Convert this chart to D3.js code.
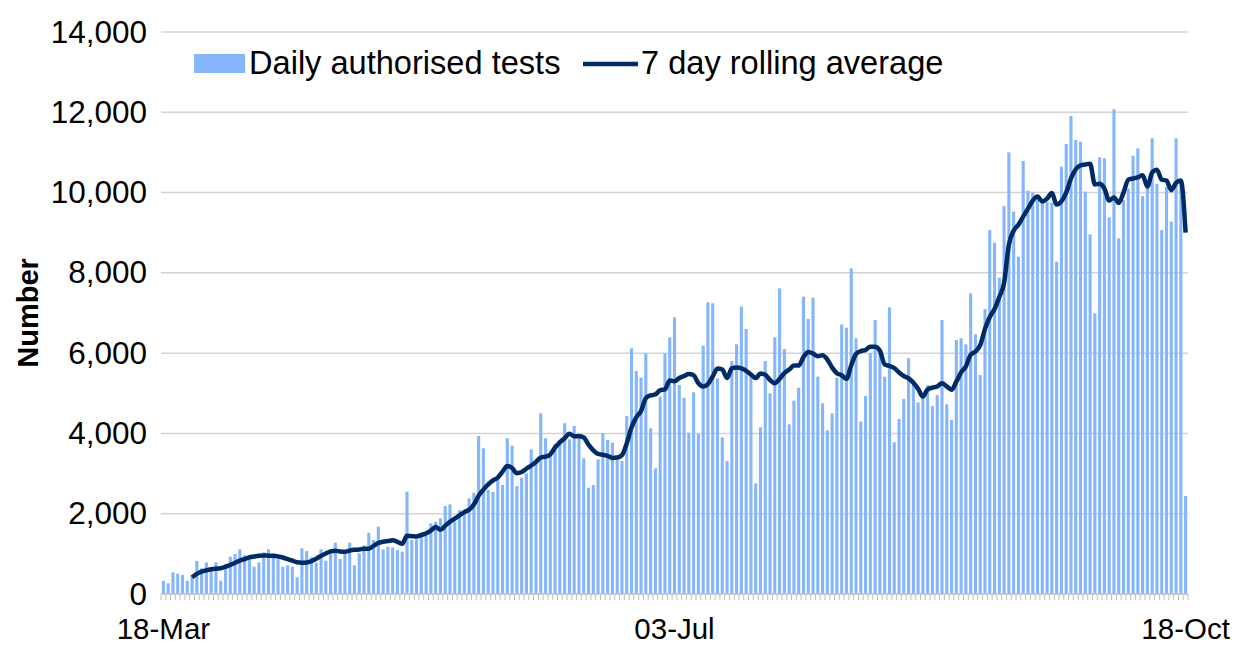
<!DOCTYPE html>
<html>
<head>
<meta charset="utf-8">
<script src="https://cdn.jsdelivr.net/npm/d3@7"></script>
<style>
  body { margin: 0; background: #fff; }
  text { font-family: "Liberation Sans", Arial, sans-serif; fill: #000; }
</style>
</head>
<body>
<div id="dataviz"></div>
<script>
// categories: one per day, 18-Mar to 18-Oct
const days = d3.timeDay.range(new Date(2020, 2, 18), new Date(2020, 9, 19));
const tickLabels = ["18-Mar", "03-Jul", "18-Oct"];
const tickDays = [0, 107, 214];
const yTicks = [0, 2000, 4000, 6000, 8000, 10000, 12000, 14000];

// daily authorised tests
const dailyTests = [
  331, 266, 540, 507, 473, 331, 450, 822, 640, 789, 640, 789, 331, 722, 930, 996, 1113, 963, 946, 680, 789,
  1038, 1113, 1000, 864, 681, 714, 681, 415, 1138, 1071, 914, 781, 1113, 830, 1013, 1279, 872, 1013, 1279, 714, 1013, 1212,
  1528, 1345, 1677, 1113, 1179, 1162, 1096, 1055, 2549, 1345, 1362, 1428, 1445, 1760, 1802, 1885, 2192, 2234, 1802, 2092, 2092, 2383,
  2524, 3936, 3629, 2591, 2541, 2840, 2715, 3878, 3695, 2690, 2898, 3006, 3604, 3296, 4501, 3878, 3462, 3737, 3836, 4252, 3853,
  4185, 4000, 3380, 2648, 2715, 3355, 4003, 3836, 3770, 3380, 3313, 4434, 6120, 5555, 5389, 5995, 4127, 3130, 4915, 5995, 6393, 6892,
  5206, 4890, 4018, 5024, 3986, 6185, 7266, 7241, 5372, 3903, 3313, 5804, 6220, 7157, 6601, 5430, 2757, 4152, 5804, 4999, 6394, 7615,
  6103, 4227, 4816, 5140, 7406, 6850, 7382, 5414, 4749, 4077, 4500, 5389, 6717, 6634, 8113, 6369, 4293, 4932, 5995, 6825, 5995, 5414,
  7141, 3779, 4359, 4857, 5871, 5331, 4774, 4915, 5206, 4683, 4957, 6825, 4724, 4334, 6327, 6369, 6220, 7490, 6468, 5455, 7099, 9067,
  8751, 7879, 9665, 11002, 9524, 8403, 10786, 10047, 10000, 9939, 9748, 9773, 9748, 8278, 10645, 11210, 11907, 11309, 11268, 10022, 8959,
  6992, 10878, 10853, 9383, 12074, 8860, 9815, 10100, 10919, 11102, 9914, 10230, 11351, 10213, 9067, 10146, 9275, 11351, 10313, 2441
];

// 7 day rolling average, starts on the 7th day
const avgStart = 6;
const rollingAvg = [
  415, 500, 556, 590, 615, 630, 640, 680, 722, 780, 830, 870, 913, 935, 955,
  960, 955, 950, 935, 910, 870, 830, 790, 780, 785, 820, 880, 950, 1010, 1060, 1080, 1060, 1050, 1080, 1100, 1110, 1130,
  1130, 1200, 1270, 1300, 1320, 1340, 1300, 1250, 1450, 1440, 1430, 1470, 1510, 1580, 1670, 1600, 1700, 1800, 1880, 1960, 2040, 2100,
  2230, 2450, 2600, 2730, 2830, 2900, 3050, 3190, 3140, 3010, 3040, 3120, 3200, 3290, 3400, 3420, 3480, 3650, 3780, 3880, 3990,
  3930, 3930, 3900, 3720, 3580, 3490, 3470, 3440, 3390, 3400, 3460, 3750, 4150, 4400, 4560, 4880, 4950, 4970, 5080, 5100, 5320, 5300,
  5380, 5430, 5480, 5450, 5250, 5170, 5230, 5420, 5620, 5590, 5380, 5620, 5640, 5620, 5560, 5470, 5380, 5490, 5460, 5330, 5250, 5360,
  5500, 5590, 5690, 5690, 5900, 6030, 5990, 5920, 5950, 5840, 5640, 5500, 5450, 5360, 5700, 5980, 6050, 6080, 6160, 6160, 6060, 5720,
  5680, 5630, 5520, 5430, 5370, 5260, 5110, 4920, 5100, 5140, 5170, 5250, 5170, 5090, 5290, 5520, 5670, 5960, 6040, 6200, 6600, 6900,
  7100, 7400, 7750, 8700, 9050, 9200, 9400, 9600, 9800, 9900, 9780, 9850, 9990, 9700, 9780, 10000, 10350, 10580, 10680, 10700, 10720,
  10200, 10220, 10100, 9800, 9880, 9740, 10000, 10320, 10350, 10380, 10430, 10150, 10500, 10570, 10320, 10300, 10060, 10240, 10300, 9000
];

const W = 1237, H = 645;
const margin = { top: 32, right: 49, bottom: 51, left: 161 };
const width = W - margin.left - margin.right;
const height = H - margin.top - margin.bottom;

const svg = d3.select("#dataviz").append("svg")
  .attr("width", W).attr("height", H);
const g = svg.append("g")
  .attr("transform", "translate(" + margin.left + "," + margin.top + ")");

const x = d3.scaleBand().domain(d3.range(days.length)).range([0, width]).paddingInner(0.35).paddingOuter(0.175);
const y = d3.scaleLinear().domain([0, 14000]).range([height, 0]);

// grid
g.append("g")
  .selectAll("line")
  .data(yTicks.slice(1))
  .join("line")
  .attr("x1", 0).attr("x2", width)
  .attr("y1", d => y(d)).attr("y2", d => y(d))
  .attr("stroke", "#d4d4d4").attr("stroke-width", 1.5);

// y axis labels
const yAxis = g.append("g")
  .call(d3.axisLeft(y).tickValues(yTicks).tickSize(0).tickPadding(14).tickFormat(d3.format(",")));
yAxis.select(".domain").remove();
yAxis.selectAll("text").style("font-size", "31.5px").attr("fill", "#000");

// bars
g.selectAll(".bar")
  .data(dailyTests)
  .join("rect")
  .attr("class", "bar")
  .attr("x", (d, i) => x(i))
  .attr("width", x.bandwidth())
  .attr("y", d => y(d))
  .attr("height", d => height - y(d))
  .attr("fill", "#85b6fb");

// x axis: baseline with small category ticks
const step = x.step();
g.append("line")
  .attr("x1", 0).attr("x2", width)
  .attr("y1", height).attr("y2", height)
  .attr("stroke", "#bfbfbf").attr("stroke-width", 1.5);
g.append("g")
  .selectAll("line")
  .data(d3.range(days.length + 1))
  .join("line")
  .attr("x1", d => d * step).attr("x2", d => d * step)
  .attr("y1", height).attr("y2", height + 6)
  .attr("stroke", "#bfbfbf").attr("stroke-width", 1);

g.append("g")
  .selectAll("text")
  .data(tickDays)
  .join("text")
  .attr("x", d => x(d) + x.bandwidth() / 2)
  .attr("y", height + 44.5)
  .attr("text-anchor", "middle")
  .style("font-size", "29.5px")
  .text((d, i) => tickLabels[i]);

// rolling average line
const line = d3.line()
  .x((d, i) => x(i + avgStart) + x.bandwidth() / 2)
  .y(d => y(d))
  .curve(d3.curveMonotoneX);
g.append("path")
  .datum(rollingAvg)
  .attr("fill", "none")
  .attr("stroke", "#002b66")
  .attr("stroke-width", 4.5)
  .attr("stroke-linejoin", "round")
  .attr("d", line);

// y title
svg.append("text")
  .attr("transform", "translate(38," + (margin.top + height / 2) + ") rotate(-90)")
  .attr("text-anchor", "middle")
  .style("font-size", "29px")
  .style("font-weight", "bold")
  .text("Number");

// legend
const legend = svg.append("g");
legend.append("rect")
  .attr("x", 194).attr("y", 54).attr("width", 51).attr("height", 19)
  .attr("fill", "#85b6fb");
legend.append("text")
  .attr("x", 249).attr("y", 74)
  .style("font-size", "32.6px")
  .text("Daily authorised tests");
legend.append("line")
  .attr("x1", 583).attr("x2", 638).attr("y1", 64).attr("y2", 64)
  .attr("stroke", "#002b66").attr("stroke-width", 4.5);
legend.append("text")
  .attr("x", 641).attr("y", 74)
  .style("font-size", "32.6px")
  .text("7 day rolling average");
</script>
</body>
</html>
